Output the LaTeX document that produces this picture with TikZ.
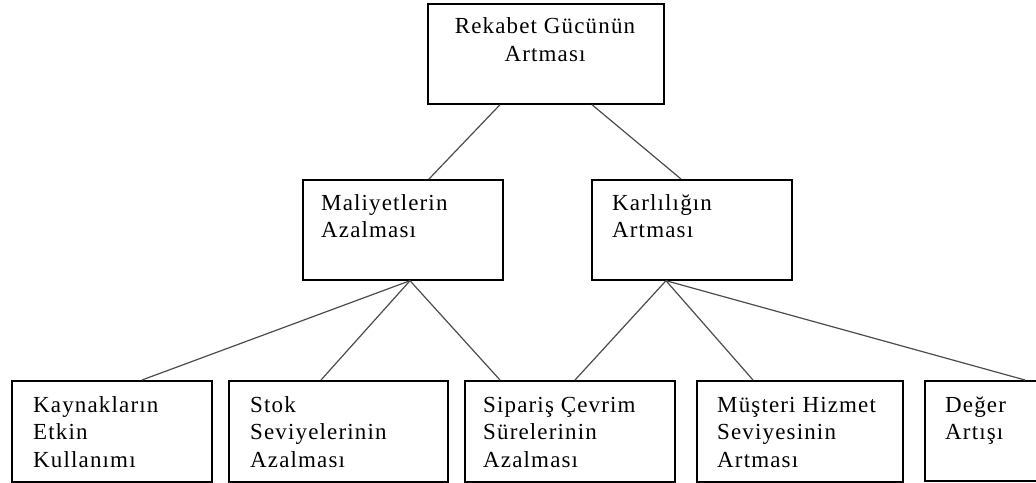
\documentclass[tikz,border=0pt]{standalone}
\usepackage{fontspec}
\setmainfont{Liberation Serif}[LetterSpace=5]
\begin{document}
\begin{tikzpicture}[x=1pt,y=-1pt,
  box/.style={draw=black, line width=1.7pt, rectangle, inner sep=0pt, anchor=north west},
  txt/.style={inner sep=0pt, align=left, anchor=base west, text=black,
              font=\fontsize{23}{27.5}\selectfont},
  link/.style={draw=black!70, line width=1.2pt}]
\clip (0,0) rectangle (1036,482);
\fill[white] (0,0) rectangle (1036,482);

% boxes
\node[box, minimum width=236pt, minimum height=100pt] (top) at (427,3) {};
\node[box, minimum width=200pt, minimum height=100pt] (mal) at (302,179) {};
\node[box, minimum width=200pt, minimum height=100pt] (kar) at (591,179) {};
\node[box, minimum width=200pt, minimum height=101pt] (b1) at (11,380) {};
\node[box, minimum width=219pt, minimum height=101pt] (b2) at (228,380) {};
\node[box, minimum width=210pt, minimum height=101pt] (b3) at (464,380) {};
\node[box, minimum width=206pt, minimum height=101pt] (b4) at (696,380) {};
\node[box, minimum width=150pt, minimum height=100pt] (b5) at (924,380) {};

% labels (base anchor sits on the last line's baseline)
\node[txt, align=center, anchor=base] (topt) at ([xshift=118pt,yshift=-58pt]top.north west) {Rekabet Gücünün\\Artması};
\node[txt] (malt) at ([xshift=19pt,yshift=-58.5pt]mal.north west) {Maliyetlerin\\Azalması};
\node[txt] (kart) at ([xshift=21pt,yshift=-58.5pt]kar.north west) {Karlılığın\\Artması};
\node[txt] (b1t) at ([xshift=22pt,yshift=-87pt]b1.north west) {Kaynakların\\Etkin\\Kullanımı};
\node[txt] (b2t) at ([xshift=22pt,yshift=-87pt]b2.north west) {Stok\\Seviyelerinin\\Azalması};
\node[txt] (b3t) at ([xshift=19pt,yshift=-87pt]b3.north west) {Sipariş Çevrim\\Sürelerinin\\Azalması};
\node[txt] (b4t) at ([xshift=21pt,yshift=-87pt]b4.north west) {Müşteri Hizmet\\Seviyesinin\\Artması};
\node[txt] (b5t) at ([xshift=21pt,yshift=-59.5pt]b5.north west) {Değer\\Artışı};

% connectors
\draw[link] ([xshift=73pt]top.south west) -- ([xshift=127pt]mal.north west);
\draw[link] ([xshift=165pt]top.south west) -- ([xshift=90pt]kar.north west);
\coordinate (malb) at ([xshift=108pt]mal.south west);
\coordinate (karb) at ([xshift=75pt]kar.south west);
\draw[link] (malb) -- ([xshift=131pt]b1.north west);
\draw[link] (malb) -- ([xshift=93pt]b2.north west);
\draw[link] (malb) -- ([xshift=36pt]b3.north west);
\draw[link] (karb) -- ([xshift=111pt]b3.north west);
\draw[link] (karb) -- ([xshift=57pt]b4.north west);
\draw[link] (karb) -- ([xshift=101pt]b5.north west);
\end{tikzpicture}
\end{document}
